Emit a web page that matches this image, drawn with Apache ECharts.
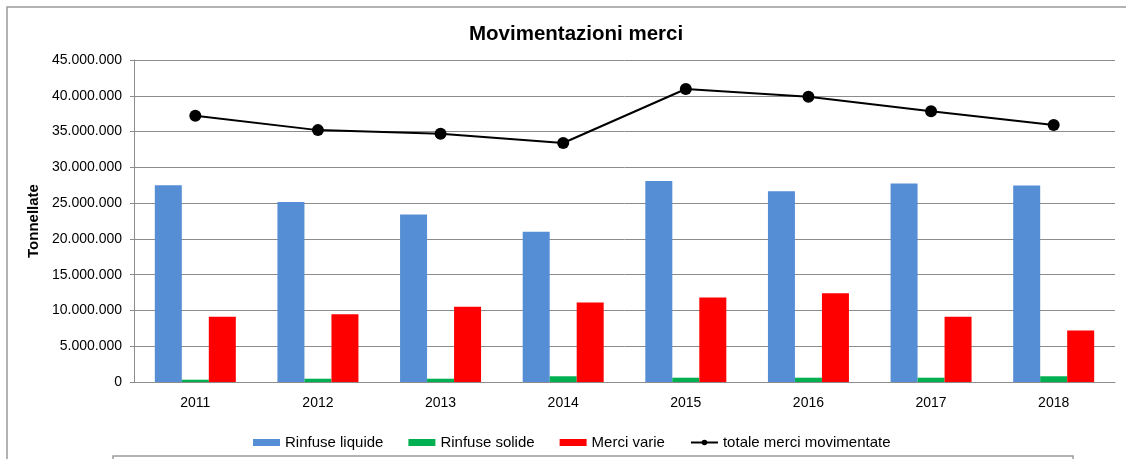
<!DOCTYPE html>
<html>
<head>
<meta charset="utf-8">
<title>Movimentazioni merci</title>
<script src="https://cdn.jsdelivr.net/npm/echarts@6/dist/echarts.min.js"></script>
<style>
  html, body { margin: 0; padding: 0; background: #fff; }
  #chart { width: 1126px; height: 459px; }
</style>
</head>
<body>
<div id="chart"></div>
<script>
// data (tonnellate)
const years = ['2011', '2012', '2013', '2014', '2015', '2016', '2017', '2018'];
const rinfuseLiquide = [27500000, 25150000, 23400000, 21000000, 28100000, 26650000, 27750000, 27450000];
const rinfuseSolide = [320000, 460000, 460000, 800000, 600000, 600000, 600000, 800000];
const merciVarie = [9130000, 9460000, 10500000, 11100000, 11800000, 12400000, 9130000, 7200000];
const totaleMerci = [37200000, 35200000, 34700000, 33400000, 40950000, 39850000, 37850000, 35900000];

const FONT = '"Liberation Sans", Arial, sans-serif';

function fmtDots(v) {
    return String(Math.round(v)).replace(/\B(?=(\d{3})+(?!\d))/g, '.');
}

const chart = echarts.init(document.getElementById('chart'));

const option = {
    backgroundColor: '#fff',
    animation: false,
    title: {
        text: 'Movimentazioni merci',
        left: 464,
        top: 19,
        textStyle: { fontFamily: FONT, fontSize: 20.5, fontWeight: 'bold', color: '#000' }
    },
    legend: {
        left: 248,
        top: 430,
        itemWidth: 27,
        itemHeight: 7,
        itemGap: 25,
        textStyle: { fontFamily: FONT, fontSize: 15, color: '#000' },
        data: [
            { name: 'Rinfuse liquide', icon: 'rect' },
            { name: 'Rinfuse solide', icon: 'rect' },
            { name: 'Merci varie', icon: 'rect' },
            { name: 'totale merci movimentate' }
        ]
    },
    grid: { left: 134, right: 11, top: 60, bottom: 77 },
    xAxis: {
        type: 'category',
        data: years,
        axisLine: { lineStyle: { color: '#8c8c8c' } },
        axisTick: { length: 5, lineStyle: { color: '#8c8c8c' } },
        axisLabel: { fontFamily: FONT, fontSize: 14, color: '#000', margin: 14 }
    },
    yAxis: {
        type: 'value',
        min: 0,
        max: 45000000,
        interval: 5000000,
        name: 'Tonnellate',
        nameLocation: 'middle',
        nameRotate: 90,
        nameGap: 90,
        nameTextStyle: { fontFamily: FONT, fontSize: 15, fontWeight: 'bold', color: '#000' },
        axisLine: { show: true, lineStyle: { color: '#8c8c8c' } },
        axisTick: { show: true, length: 4, lineStyle: { color: '#8c8c8c' } },
        splitLine: { lineStyle: { color: '#8c8c8c', width: 1 } },
        axisLabel: {
            fontFamily: FONT, fontSize: 14, color: '#000', margin: 12,
            formatter: fmtDots
        }
    },
    series: [
        {
            name: 'Rinfuse liquide',
            type: 'bar',
            data: rinfuseLiquide,
            barWidth: 27,
            barGap: '0%',
            itemStyle: { color: '#558ed5' }
        },
        {
            name: 'Rinfuse solide',
            type: 'bar',
            data: rinfuseSolide,
            barWidth: 27,
            barGap: '0%',
            itemStyle: { color: '#00b050' }
        },
        {
            name: 'Merci varie',
            type: 'bar',
            data: merciVarie,
            barWidth: 27,
            barGap: '0%',
            itemStyle: { color: '#ff0000' }
        },
        {
            name: 'totale merci movimentate',
            type: 'line',
            data: totaleMerci,
            symbol: 'circle',
            symbolSize: 12,
            lineStyle: { color: '#000', width: 2 },
            itemStyle: { color: '#000' },
            z: 5
        }
    ],
    // frame lines around the chart picture
    graphic: [
        { type: 'polyline', shape: { points: [[7, 459], [7, 7], [1126, 7]] }, style: { stroke: '#9a9a9a', lineWidth: 1.5, fill: null } },
        { type: 'polyline', shape: { points: [[113, 459], [113, 456], [1073, 456], [1073, 459]] }, style: { stroke: '#9a9a9a', lineWidth: 1.5, fill: null } }
    ]
};

chart.setOption(option);
</script>
</body>
</html>
